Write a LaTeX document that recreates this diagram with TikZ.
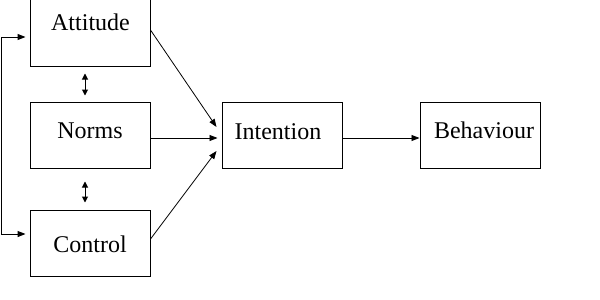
\documentclass[tikz,border=0pt]{standalone}
\usepackage{fontspec}
\setmainfont{Liberation Serif}
\usetikzlibrary{arrows.meta,calc}
\begin{document}
\begin{tikzpicture}[x=1pt,y=-1pt,
  box/.style={draw,line width=1pt,minimum width=120pt,inner sep=0pt},
  lbl/.style={anchor=base,inner sep=0pt,font=\fontsize{24}{28}\selectfont},
  conn/.style={line width=0.8pt,-{Triangle[length=8pt,width=6pt]}},
  dconn/.style={line width=1pt,{Triangle[length=6pt,width=6pt]}-{Triangle[length=6pt,width=6pt]}}]
\useasboundingbox (0,0) rectangle (600,300);
\node[box,minimum height=68pt] (att) at (90,32) {};
\node[box,minimum height=66pt] (nor) at (90,135) {};
\node[box,minimum height=66pt] (con) at (90,243) {};
\node[box,minimum height=66pt] (int) at (282,135) {};
\node[box,minimum height=66pt] (beh) at (480,135) {};
\node[lbl] (attt) at (90.5,30) {Attitude};
\node[lbl] (nort) at (90,138) {Norms};
\node[lbl] (cont) at (90,252) {Control};
\node[lbl] (intt) at (278,139) {Intention};
\node[lbl] (beht) at (484,138) {Behaviour};
\draw[conn] ($(att.east)+(0,-2)$) -- ($(int.west)+(-5,-8)$);
\draw[conn] ($(nor.east)+(0,3)$) -- ($(int.west)+(-4,3)$);
\draw[conn] ($(con.east)+(0,-4)$) -- ($(int.west)+(-5,16)$);
\draw[conn] ($(int.east)+(0,3)$) -- ($(beh.west)+(0,3)$);
\draw[dconn] ($(att.south)+(-5,7)$) -- ($(nor.north)+(-5,-6)$);
\draw[dconn] ($(nor.south)+(-5,13)$) -- ($(con.north)+(-5,-7)$);
\coordinate (lt) at (1.5,37);
\coordinate (lb) at (1.5,234);
\draw[line width=1pt,{Triangle[length=8pt,width=6pt]}-{Triangle[length=8pt,width=6pt]}]
  ($(att.west)+(-4,5)$) -- (lt) -- (lb) -- ($(con.west)+(-4,-9)$);
\end{tikzpicture}
\end{document}
